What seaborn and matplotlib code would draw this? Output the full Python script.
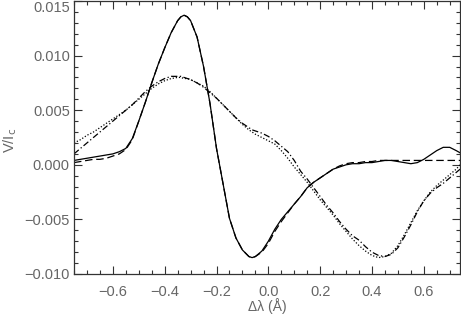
import numpy as np
import pandas as pd
import matplotlib
matplotlib.use("Agg")
import matplotlib.pyplot as plt
import seaborn as sns
from matplotlib.ticker import MultipleLocator, FuncFormatter

# wavelength offset grid (Angstrom)
dlam = [-0.75, -0.725, -0.70, -0.675, -0.65, -0.625, -0.60, -0.575, -0.55, -0.525,
        -0.50, -0.475, -0.45, -0.425, -0.40, -0.375, -0.35, -0.3375, -0.325, -0.3125, -0.30, -0.275,
        -0.25, -0.225, -0.20, -0.175, -0.15, -0.125, -0.10, -0.075, -0.0625, -0.05, -0.025,
        0.00, 0.025, 0.05, 0.075, 0.10, 0.125, 0.15, 0.175, 0.20, 0.225,
        0.25, 0.275, 0.30, 0.325, 0.35, 0.375, 0.40, 0.425, 0.45, 0.475,
        0.50, 0.525, 0.55, 0.575, 0.60, 0.625, 0.65, 0.675, 0.70, 0.725, 0.74]

v_solid = [0.0004, 0.0005, 0.0006, 0.0007, 0.0008, 0.0009, 0.0010, 0.0012, 0.0015, 0.0024,
           0.0040, 0.0057, 0.0075, 0.0092, 0.0107, 0.0121, 0.0132, 0.01355, 0.0137, 0.01355, 0.0132, 0.0117,
           0.0090, 0.0056, 0.0015, -0.0017, -0.0049, -0.0067, -0.0078, -0.0084, -0.0085, -0.0084, -0.0079,
           -0.0070, -0.0059, -0.0050, -0.0043, -0.0036, -0.0029, -0.0021, -0.0016, -0.0012, -0.0008,
           -0.0004, -0.0002, 0.0000, 0.0001, 0.0001, 0.0002, 0.0002, 0.0003, 0.0004, 0.0004,
           0.0003, 0.0002, 0.0001, 0.0002, 0.0005, 0.0009, 0.0013, 0.0016, 0.0016, 0.0013, 0.0011]

v_dashed = [0.0002, 0.0003, 0.0004, 0.0005, 0.0005, 0.0006, 0.0008, 0.0010, 0.0014, 0.0023,
            0.0040, 0.0057, 0.0075, 0.0092, 0.0107, 0.0121, 0.0132, 0.01355, 0.0137, 0.01355, 0.0132, 0.0117,
            0.0090, 0.0056, 0.0015, -0.0017, -0.0049, -0.0067, -0.0078, -0.0084, -0.0085, -0.0084, -0.0080,
            -0.0072, -0.0061, -0.0052, -0.0044, -0.0036, -0.0029, -0.0021, -0.0016, -0.0012, -0.0008,
            -0.0004, -0.0001, 0.0001, 0.0002, 0.0002, 0.0003, 0.0003, 0.0004, 0.0004, 0.0004,
            0.0004, 0.0004, 0.0004, 0.0004, 0.0004, 0.0004, 0.0004, 0.0004, 0.0004, 0.0004, 0.0004]

v_dotted = [0.0020, 0.0023, 0.0027, 0.0030, 0.0034, 0.0038, 0.0042, 0.0046, 0.0050, 0.0055,
            0.0060, 0.0065, 0.0070, 0.0074, 0.0077, 0.0079, 0.0080, 0.0080, 0.0079, 0.0079, 0.0078, 0.0075,
            0.0072, 0.0067, 0.0061, 0.0055, 0.0049, 0.0043, 0.0037, 0.0032, 0.0030, 0.0028, 0.0025,
            0.0022, 0.0019, 0.0013, 0.0006, -0.0002, -0.0009, -0.0016, -0.0024, -0.0032, -0.0039,
            -0.0046, -0.0054, -0.0061, -0.0068, -0.0074, -0.0079, -0.0083, -0.0085, -0.0084, -0.0081,
            -0.0074, -0.0064, -0.0053, -0.0042, -0.0033, -0.0025, -0.0019, -0.0014, -0.0009, -0.0004, 0.0000]

v_dashdot = [0.0010, 0.0015, 0.0020, 0.0025, 0.0030, 0.0035, 0.0040, 0.0045, 0.0050, 0.0055,
             0.0061, 0.0067, 0.0072, 0.0076, 0.0079, 0.0081, 0.0081, 0.0081, 0.0080, 0.0079, 0.0078, 0.0075,
             0.0071, 0.0066, 0.0061, 0.0055, 0.0049, 0.0043, 0.0038, 0.0034, 0.0032, 0.0031, 0.0029,
             0.0026, 0.0022, 0.0017, 0.0012, 0.0004, -0.0006, -0.0013, -0.0021, -0.0029, -0.0037,
             -0.0044, -0.0052, -0.0059, -0.0065, -0.0069, -0.0075, -0.0080, -0.0083, -0.0084, -0.0082,
             -0.0076, -0.0066, -0.0055, -0.0043, -0.0033, -0.0026, -0.0021, -0.0017, -0.0012, -0.0007, -0.0004]

sns.set_style("ticks")
plt.rcParams['font.family'] = ['Liberation Sans', 'DejaVu Sans']
grey = '#666666'

fig = plt.figure(figsize=(4.61, 3.14), dpi=100)
ax = fig.add_axes([0.1605, 0.1274, 0.8375, 0.8694])

styles = [(v_solid, '-'), (v_dashed, (0, (6, 3))), (v_dotted, (0, (1, 1.5))),
          (v_dashdot, (0, (5, 2, 1, 2)))]
for vals, ls in styles:
    sns.lineplot(x=dlam, y=vals, ax=ax, color='black', lw=0.9, linestyle=ls,
                 sort=False, estimator=None)

ax.set_xlim(-0.75, 0.74)
ax.set_ylim(-0.010, 0.015)
ax.xaxis.set_major_locator(MultipleLocator(0.2))
ax.xaxis.set_minor_locator(MultipleLocator(0.05))
ax.yaxis.set_major_locator(MultipleLocator(0.005))
ax.yaxis.set_minor_locator(MultipleLocator(0.001))
ax.xaxis.set_major_formatter(FuncFormatter(lambda v, p: f"{v:.1f}".replace('-', '\u2212')))
ax.yaxis.set_major_formatter(FuncFormatter(lambda v, p: f"{v:.3f}".replace('-', '\u2212')))

ax.tick_params(which='both', direction='in', top=True, right=True, color='#333333',
               labelcolor=grey, labelsize=10.5, width=0.8)
ax.tick_params(which='major', length=6)
ax.tick_params(which='minor', length=3)
ax.tick_params(axis='x', which='major', pad=8)
ax.tick_params(axis='y', which='major', pad=3)
for s in ax.spines.values():
    s.set_color('#333333')
    s.set_linewidth(0.9)

fig.canvas.draw()
for lab in ax.get_yticklabels():
    if lab.get_text() == '0.015':
        lab.set_verticalalignment('top')

ax.set_xlabel('Δλ (Å)', color=grey, fontsize=10)
ax.xaxis.set_label_coords(0.5, -0.087)
ax.set_ylabel('V/I$_{\\rm c}$', color=grey, fontsize=10.5)
ax.yaxis.set_label_coords(-0.142, 0.49)

fig.savefig('out.png', dpi=100)
